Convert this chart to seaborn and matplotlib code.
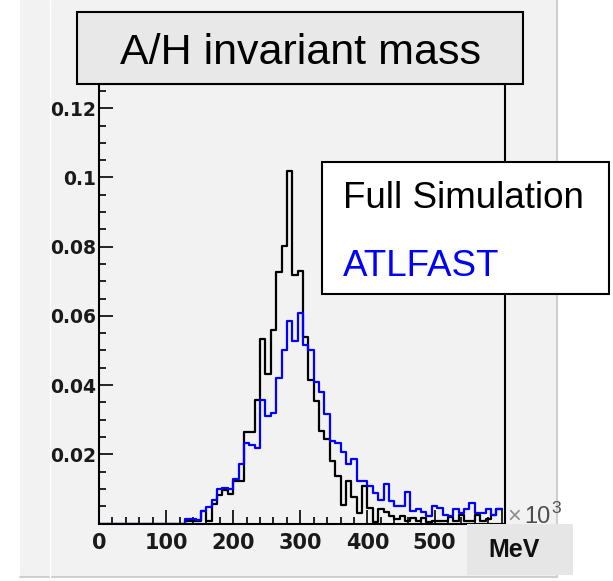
import numpy as np
import pandas as pd
import matplotlib
matplotlib.use("Agg")
import matplotlib.pyplot as plt
import seaborn as sns
from matplotlib.patches import Rectangle
from matplotlib.lines import Line2D
from matplotlib.ticker import MultipleLocator

# ---- data: A/H invariant mass, 8 GeV bins from 0 to 600 (x10^3 MeV) ----
bin_width = 8
mass_range = (0, 600)
mass_bin_start = np.arange(mass_range[0], mass_range[1], bin_width)

full_sim = [
    0, 0, 0, 0, 0, 0, 0, 0, 0, 0, 0, 0, 0, 0, 0, 0,              # 0-120
    0.0007, 0.0007, 0.0007, 0.0035, 0.0007, 0.0055, 0.0082, 0.0097,  # 128-184
    0.0084, 0.0124, 0.0124, 0.0264, 0.0264, 0.0358, 0.0533, 0.0432,  # 192-248
    0.0558, 0.0728, 0.0802, 0.1018, 0.0719, 0.0731, 0.0538, 0.0415,  # 256-312
    0.0355, 0.0266, 0.0243, 0.0180, 0.0137, 0.0053, 0.0123, 0.0078,  # 320-376
    0.0031, 0.0108, 0.0045, 0.0005, 0.0042, 0.0032, 0.0021, 0.0012,  # 384-440
    0.0021, 0.0008, 0.0015, 0.0008, 0.0016, 0.0004, 0.0007, 0.0007,  # 448-504
    0.0007, 0.0019, 0.0007, 0.0026, 0.0007, 0.0007, 0.0026, 0.0007,  # 512-568
    0.0012, 0.0026, 0.0043,                                          # 576-592
]

atlfast = [
    0, 0, 0, 0, 0, 0, 0, 0, 0, 0, 0, 0, 0, 0, 0, 0,              # 0-120
    0.0014, 0.0012, 0.0009, 0.0036, 0.0047, 0.0068, 0.0100, 0.0102,  # 128-184
    0.0100, 0.0128, 0.0171, 0.0234, 0.0226, 0.0219, 0.0357, 0.0311,  # 192-248
    0.0320, 0.0420, 0.0500, 0.0586, 0.0526, 0.0609, 0.0517, 0.0500,  # 256-312
    0.0408, 0.0380, 0.0316, 0.0239, 0.0234, 0.0207, 0.0171, 0.0187,  # 320-376
    0.0123, 0.0123, 0.0108, 0.0089, 0.0067, 0.0115, 0.0065, 0.0052,  # 384-440
    0.0052, 0.0091, 0.0036, 0.0043, 0.0033, 0.0021, 0.0050, 0.0045,  # 448-504
    0.0026, 0.0021, 0.0043, 0.0029, 0.0043, 0.0058, 0.0031, 0.0031,  # 512-568
    0.0043, 0.0026, 0.0043,                                          # 576-592
]

x_ticks = [0, 100, 200, 300, 400, 500, 600]
x_tick_labels = ["0", "100", "200", "300", "400", "500", ""]
y_ticks = [0.02, 0.04, 0.06, 0.08, 0.10, 0.12]
y_tick_labels = ["0.02", "0.04", "0.06", "0.08", "0.1", "0.12"]

series_names = ["Full Simulation", "ATLFAST"]
series_colors = {"Full Simulation": "black", "ATLFAST": "#0000ff"}

# ---- style ----
sns.set_theme(style="ticks")
plt.rcParams["font.family"] = ["Liberation Sans", "DejaVu Sans"]

W, H = 613, 581
fig = plt.figure(figsize=(W / 100, H / 100), dpi=100, facecolor="white")


def fx(px):
    return px / W


def fy(py):
    return 1 - py / H


# canvas background with a light frame on the right and bottom
fig.add_artist(Rectangle((fx(20), fy(577)), fx(557) - fx(20), fy(0) - fy(577),
                         transform=fig.transFigure, facecolor="#f2f2f2",
                         edgecolor="none", zorder=0))
fig.add_artist(Line2D([fx(557), fx(557)], [fy(0), fy(577)], transform=fig.transFigure,
                      color="#cfcfcf", lw=1.5, zorder=0.5))
fig.add_artist(Line2D([fx(20), fx(557)], [fy(577), fy(577)], transform=fig.transFigure,
                      color="#cfcfcf", lw=1.5, zorder=0.5))
fig.add_artist(Line2D([fx(50), fx(50)], [fy(0), fy(577)], transform=fig.transFigure,
                      color="white", lw=1.0, zorder=0.5))

ax = fig.add_axes([fx(99), fy(523.5), fx(505) - fx(99), fy(84) - fy(523.5)])
ax.set_facecolor("#f2f2f2")

centers = mass_bin_start + bin_width / 2

df = pd.DataFrame({
    "mass": np.concatenate([centers, centers]),
    "weight": np.concatenate([full_sim, atlfast]),
    "sample": np.repeat(series_names, len(centers)),
})

for name in series_names:
    sns.histplot(data=df[df["sample"] == name], x="mass", weights="weight",
                 binwidth=bin_width, binrange=mass_range, element="step",
                 fill=False, color=series_colors[name], linewidth=1.6, ax=ax)

ax.set_xlabel("")
ax.set_ylabel("")
ax.set_xlim(0, 605)
ax.set_ylim(0, 0.127)

ax.set_xticks(x_ticks)
ax.set_xticklabels(x_tick_labels)
ax.xaxis.set_minor_locator(MultipleLocator(20))
ax.set_yticks(y_ticks)
ax.set_yticklabels(y_tick_labels)
ax.yaxis.set_minor_locator(MultipleLocator(0.005))

ax.tick_params(which="both", direction="in", top=False, right=False,
               color="black", width=1.2)
ax.tick_params(which="major", length=10)
ax.tick_params(which="minor", length=5)
ax.tick_params(axis="x", labelsize=15, pad=7)
ax.tick_params(axis="y", labelsize=13.5, pad=2)
for lab in ax.get_xticklabels() + ax.get_yticklabels():
    lab.set_fontfamily("DejaVu Sans")
    lab.set_fontweight("bold")
    lab.set_color("#1a1a1a")

for side in ["left", "bottom", "right", "top"]:
    ax.spines[side].set_color("black")
    ax.spines[side].set_linewidth(1.5)

# title box
fig.add_artist(Rectangle((fx(77), fy(84)), fx(523) - fx(77), fy(12) - fy(84),
                         transform=fig.transFigure, facecolor="#e8e8e8",
                         edgecolor="black", lw=1.5, zorder=5))
fig.text(fx(300), fy(64), "A/H invariant mass", ha="center", va="baseline",
         fontsize=31, color="black", zorder=6)

# legend box
fig.add_artist(Rectangle((fx(322), fy(294)), fx(609) - fx(322), fy(162) - fy(294),
                         transform=fig.transFigure, facecolor="white",
                         edgecolor="black", lw=1.5, zorder=5))
fig.text(fx(343), fy(208), series_names[0], ha="left", va="baseline",
         fontsize=26.5, color=series_colors[series_names[0]], zorder=6)
fig.text(fx(343), fy(276), series_names[1], ha="left", va="baseline",
         fontsize=26.5, color=series_colors[series_names[1]], zorder=6)

# axis exponent and unit
fig.text(fx(507), fy(523), "\u00d7", ha="left", va="baseline", fontsize=17,
         color="#8c8c8c", zorder=6)
fig.text(fx(524), fy(523), "10", ha="left", va="baseline", fontsize=17,
         color="#4d4d4d", zorder=6)
fig.text(fx(551), fy(513), "3", ha="left", va="baseline", fontsize=12.5,
         color="#4d4d4d", zorder=6)
fig.add_artist(Rectangle((fx(467), fy(575)), fx(573) - fx(467), fy(524) - fy(575),
                         transform=fig.transFigure, facecolor="#e6e6e6",
                         edgecolor="none", zorder=5))
fig.text(fx(514), fy(550), "MeV", ha="center", va="center", fontsize=18,
         fontweight="bold", color="#111111", zorder=6)

fig.savefig("out.png", dpi=100, facecolor=fig.get_facecolor())
